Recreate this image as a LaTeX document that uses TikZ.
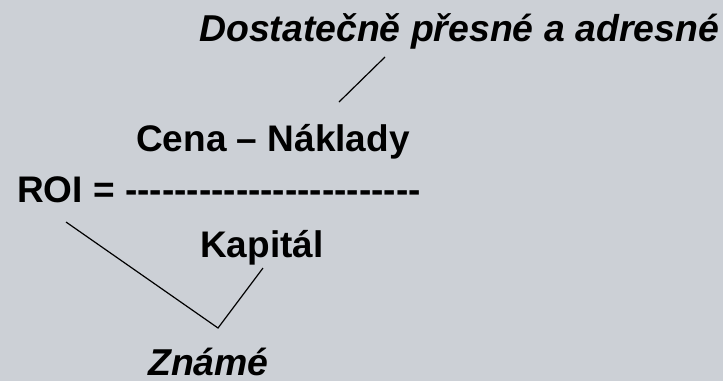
\documentclass[tikz,border=0pt]{standalone}
\usepackage{fontspec}
\setmainfont{Liberation Sans}[Ligatures=TeXOff]
\definecolor{slidegray}{RGB}{204,208,214}
\begin{document}
\begin{tikzpicture}[x=1pt,y=-1pt,
		term/.style={font=\fontsize{37}{44}\selectfont\bfseries,inner sep=0pt,anchor=base west},
		note/.style={term,font=\fontsize{37.4}{44}\selectfont\bfseries\itshape},
		pointer/.style={line width=1.2pt}]
	\fill[slidegray] (0,0) rectangle (723,381);
	% formula
	\node[term] (gain) at (136,151) {Cena – Náklady};
	\node[term] (roi) at (17,202) {ROI = ------------------------};
	\node[term] (capital) at (200,257) {Kapitál};
	% remarks
	\node[note] (precise) at (199,41) {Dostatečně přesné a adresné};
	\node[note] (known) at (148,375) {Známé};
	\coordinate (p1) at (385,57);
	\coordinate (p2) at (339,102);
	\coordinate (k1) at (66,222);
	\coordinate (k2) at (218,328);
	\coordinate (k3) at (263,268);
	\draw[pointer] (p1) -- (p2);
	\draw[pointer] (k1) -- (k2) -- (k3);
\end{tikzpicture}
\end{document}
